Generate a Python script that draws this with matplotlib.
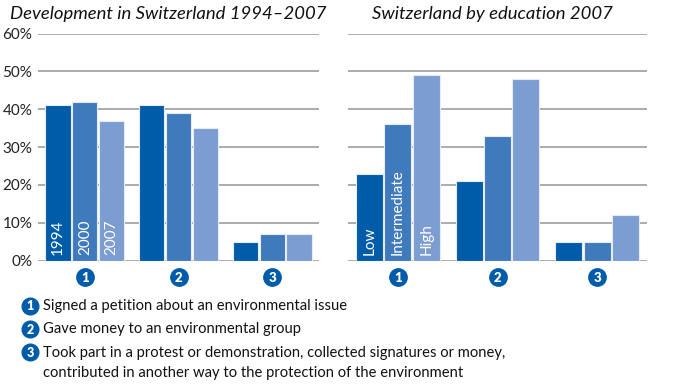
import matplotlib
matplotlib.use("Agg")
import matplotlib.pyplot as plt
import matplotlib.transforms as mtrans
import numpy as np

plt.rcParams['font.family'] = ['Lato', 'DejaVu Sans']

categories = ["1", "2", "3"]
years = ["1994", "2000", "2007"]
dev_values = [[41, 41, 5], [42, 39, 7], [37, 35, 7]]  # per year, per category
edu_levels = ["Low", "Intermediate", "High"]
edu_values = [[23, 21, 5], [36, 33, 5], [49, 48, 12]]
yticks = [0, 10, 20, 30, 40, 50, 60]
ytick_labels = ["0%", "10%", "20%", "30%", "40%", "50%", "60%"]
titles = ["Development in Switzerland 1994–2007", "Switzerland by education 2007"]
legend_items = [
    "Signed a petition about an environmental issue",
    "Gave money to an environmental group",
    "Took part in a protest or demonstration, collected signatures or money,\ncontributed in another way to the protection of the environment",
]

colors = ["#005CA9", "#3F7ABD", "#7C9DD1"]
circle_color = "#005CA9"
W, H = 678, 384
fig = plt.figure(figsize=(W / 100, H / 100), dpi=100)

def px_axes(x0, x1, ytop, ybot):
    return fig.add_axes([x0 / W, 1 - ybot / H, (x1 - x0) / W, (ybot - ytop) / H])

axL = px_axes(38, 319, 33.5, 260.7)
axR = px_axes(348, 647, 33.5, 260.7)

bw = 0.27
step = 0.285
x = np.arange(len(categories))

for ax, vals, labels in [(axL, dev_values, years), (axR, edu_values, edu_levels)]:
    ax.set_xlim(-0.5, 2.5)
    ax.set_ylim(0, 60)
    for i, (v, lab) in enumerate(zip(vals, labels)):
        xs = x + (i - 1) * step
        ax.bar(xs, v, width=bw, color=colors[i], edgecolor="#e4ebf5", linewidth=0.8, zorder=3)
        ax.text(xs[0], 1.5, lab, rotation=90, ha="center", va="bottom", color="white",
                fontsize=11, zorder=4)
    for yt in yticks:
        ax.axhline(yt, color="#959595", lw=1.1, zorder=1)
    for s in ax.spines.values():
        s.set_visible(False)
    ax.set_xticks([])
    ax.set_yticks([])
    trans = mtrans.blended_transform_factory(ax.transData, fig.transFigure)
    for xi, c in zip(x, categories):
        ax.plot([xi], [1 - 276.5 / H], marker="o", markersize=12.5, color=circle_color,
                transform=trans, clip_on=False, zorder=5)
        ax.text(xi, 1 - 276.5 / H, c, transform=trans, ha="center", va="center_baseline",
                color="white", fontsize=9.5, fontweight="heavy", zorder=6)

axL.set_yticks(yticks)
axL.set_yticklabels(ytick_labels)
axL.tick_params(axis="y", length=0, pad=4, labelsize=11, labelcolor="#222222")

fig.text(10 / W, 1 - 14 / H, titles[0], fontsize=13.3, style="italic", ha="left", va="center", color="#111111")
fig.text(372 / W, 1 - 14 / H, titles[1], fontsize=13.3, style="italic", ha="left", va="center", color="#111111")

for i, txt in enumerate(legend_items):
    yc = [305.5, 328.5, 352][i]
    fig.lines.append(plt.Line2D([30 / W], [1 - yc / H], marker="o", markersize=12,
                                color=circle_color, transform=fig.transFigure))
    fig.text(30 / W, 1 - yc / H, categories[i], ha="center", va="center_baseline", color="white",
             fontsize=9, fontweight="heavy")
    fig.text(43 / W, 1 - (yc - 6.5) / H, txt, ha="left", va="top", fontsize=10.6,
             color="#111111", linespacing=1.55)

fig.savefig("out.png", dpi=100)
